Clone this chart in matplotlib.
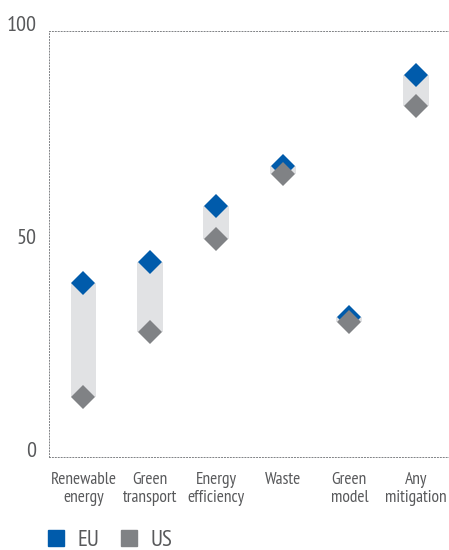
import numpy as np
import matplotlib.pyplot as plt
from matplotlib.lines import Line2D

categories = ["Renewable\nenergy", "Green\ntransport", "Energy\nefficiency",
              "Waste", "Green\nmodel", "Any\nmitigation"]
eu = [40.8, 45.8, 58.9, 68.2, 32.8, 89.7]
us = [14.1, 29.3, 51.2, 66.5, 31.8, 82.4]

EU_COL = "#005bab"
US_COL = "#808285"
TXT = "#58595b"

plt.rcParams['font.family'] = ['PT Sans Narrow', 'DejaVu Sans']

fig = plt.figure(figsize=(4.49, 5.5), dpi=100)
ax = fig.add_axes([0.109, 0.169, 0.891, 0.775])

x = np.arange(len(categories))
lo = np.minimum(eu, us)
hi = np.maximum(eu, us)
# grey band between the two values
ax.bar(x, hi - lo, bottom=lo, width=0.39, color="#e1e2e4", zorder=1)
ax.plot(x, eu, 'D', color=EU_COL, markersize=12.5, markeredgewidth=0, zorder=2)
ax.plot(x, us, 'D', color=US_COL, markersize=12.5, markeredgewidth=0, zorder=3)

ax.set_xlim(-0.52, 5.5)
ax.set_ylim(0, 100)
ax.set_yticks([0, 50, 100])
ax.set_xticks(x)
ax.set_xticklabels(categories, fontsize=12.5, color=TXT, linespacing=1.15)
ax.tick_params(axis='y', labelsize=16, colors=TXT, length=0, pad=9)
ax.tick_params(axis='x', length=0, pad=11)
for lab in ax.get_yticklabels():
    lab.set_verticalalignment('baseline')

for s in ['left', 'bottom', 'top']:
    ax.spines[s].set_linestyle((0, (1, 2)))
    ax.spines[s].set_color("#808285")
    ax.spines[s].set_linewidth(0.7)
ax.spines['right'].set_visible(False)

handles = [Line2D([], [], marker='s', ls='', color=EU_COL, markersize=11),
           Line2D([], [], marker='s', ls='', color=US_COL, markersize=11)]
fig.legend(handles, ["EU", "US"], loc='center left', bbox_to_anchor=(0.1, 0.018),
           ncol=2, frameon=False, fontsize=16.5, labelcolor=TXT,
           borderpad=0, borderaxespad=0,
           handletextpad=0.44, columnspacing=0.78, handlelength=1.0)

fig.savefig("out.png", dpi=100)
